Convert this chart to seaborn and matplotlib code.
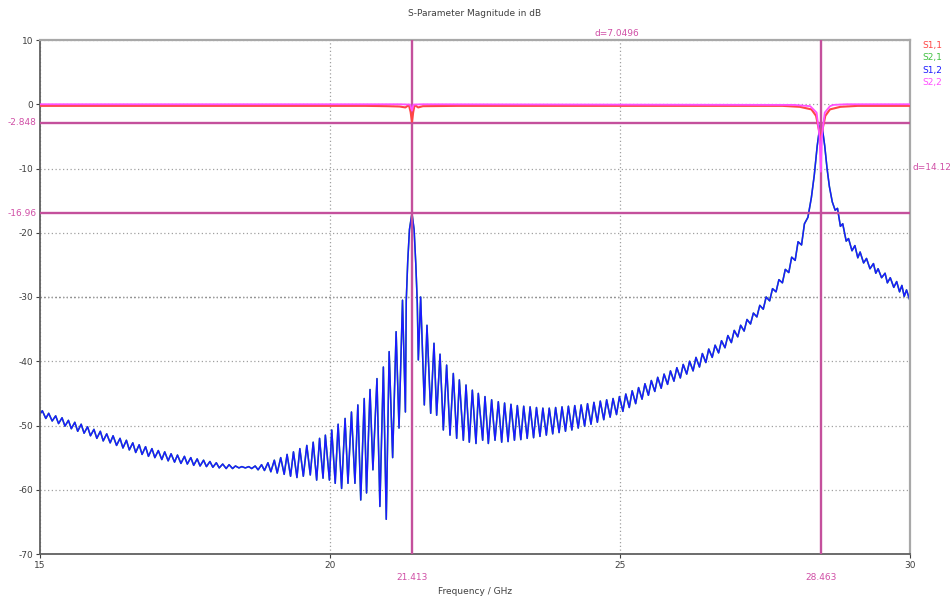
import numpy as np
import pandas as pd
import matplotlib
matplotlib.use("Agg")
import matplotlib.pyplot as plt
import matplotlib.transforms as mtransforms
import seaborn as sns

# ---------------- data ----------------
# S1,2 (and S2,1, identical / hidden underneath): local maxima and minima of the ripple
s12_freq_left = [15.00, 15.04, 15.10, 15.15, 15.21, 15.27, 15.32, 15.38, 15.43, 15.49, 15.54, 15.60,
                 15.65, 15.71, 15.76, 15.82, 15.87, 15.93, 15.98, 16.04, 16.09, 16.15, 16.21, 16.26,
                 16.32, 16.38, 16.43, 16.49, 16.54, 16.60, 16.65, 16.71, 16.76, 16.82, 16.87, 16.93,
                 16.98, 17.04, 17.10, 17.15, 17.21, 17.26, 17.32, 17.37, 17.43, 17.49, 17.54, 17.60,
                 17.65, 17.71, 17.76, 17.82, 17.87, 17.93, 17.98, 18.04, 18.09, 18.15, 18.21, 18.26,
                 18.32, 18.37, 18.43, 18.48, 18.54, 18.60, 18.65, 18.71, 18.76, 18.82, 18.87, 18.93,
                 18.98, 19.04, 19.09, 19.15, 19.21, 19.26, 19.32, 19.37, 19.43, 19.48, 19.54, 19.60,
                 19.66, 19.71, 19.77, 19.82, 19.88, 19.92, 19.99, 20.03, 20.09, 20.14, 20.20, 20.26,
                 20.31, 20.37, 20.43, 20.48, 20.53, 20.59, 20.63, 20.69, 20.74, 20.81, 20.86, 20.92,
                 20.97, 21.02, 21.08, 21.14, 21.19, 21.25, 21.30]
s12_db_left = [-48.2, -47.7, -48.9, -48.1, -49.3, -48.5, -49.7, -48.8, -50.1, -49.2, -50.5, -49.5,
               -50.9, -49.8, -51.2, -50.2, -51.6, -50.6, -52.0, -50.9, -52.4, -51.3, -52.7, -51.6,
               -53.1, -52.0, -53.5, -52.3, -53.8, -52.7, -54.2, -53.0, -54.5, -53.3, -54.8, -53.6,
               -55.0, -53.9, -55.3, -54.1, -55.5, -54.4, -55.7, -54.6, -55.9, -54.8, -56.0, -55.0,
               -56.2, -55.2, -56.3, -55.4, -56.4, -55.6, -56.5, -55.8, -56.6, -56.0, -56.7, -56.1,
               -56.7, -56.3, -56.6, -56.4, -56.6, -56.4, -56.7, -56.3, -56.9, -56.1, -57.0, -55.8,
               -57.2, -55.4, -57.4, -55.0, -57.6, -54.5, -57.9, -54.1, -58.1, -53.6, -57.9, -53.1,
               -57.7, -52.6, -58.5, -52.0, -58.2, -51.5, -58.5, -50.7, -59.0, -49.8, -59.8, -48.9,
               -59.0, -47.9, -59.0, -46.8, -61.6, -45.8, -60.5, -44.4, -56.9, -42.7, -62.6, -40.9,
               -64.6, -38.5, -55.0, -35.4, -50.4, -30.5, -47.9]

s12_freq_mid = [21.315, 21.34, 21.37, 21.413, 21.45, 21.48, 21.505, 21.523, 21.563, 21.626, 21.672,
                21.736, 21.793, 21.839, 21.897, 21.954, 22.011, 22.069, 22.126, 22.184, 22.230,
                22.299, 22.345, 22.402, 22.454, 22.517, 22.557, 22.632, 22.672, 22.730, 22.787,
                22.845, 22.902]
s12_db_mid = [-30.5, -24.5, -19.5, -16.96, -19.5, -25.0, -31.0, -39.8, -30.0, -46.8, -34.4,
              -48.1, -37.2, -48.4, -38.9, -50.7, -40.6, -51.5, -41.9, -52.0, -42.9,
              -52.3, -43.7, -52.6, -44.5, -52.8, -45.0, -52.3, -45.5, -52.8, -46.0,
              -52.3, -46.3]

s12_freq_right = [22.96, 23.01, 23.07, 23.12, 23.18, 23.23, 23.29, 23.34, 23.40, 23.45, 23.51, 23.56,
                  23.62, 23.67, 23.73, 23.78, 23.84, 23.89, 23.95, 24.00, 24.06, 24.11, 24.17, 24.22,
                  24.28, 24.33, 24.39, 24.44, 24.50, 24.55, 24.61, 24.66, 24.72, 24.77, 24.83, 24.88,
                  24.94, 24.99, 25.05, 25.10, 25.16, 25.21, 25.27, 25.32, 25.38, 25.43, 25.49, 25.54,
                  25.60, 25.65, 25.71, 25.76, 25.82, 25.87, 25.93, 25.98, 26.04, 26.09, 26.15, 26.20,
                  26.26, 26.31, 26.37, 26.42, 26.48, 26.53, 26.59, 26.64, 26.70, 26.75, 26.81, 26.86,
                  26.92, 26.97, 27.03, 27.08, 27.14, 27.19, 27.25, 27.30, 27.36, 27.41, 27.47, 27.52,
                  27.58, 27.63, 27.69, 27.74, 27.80, 27.85, 27.91, 27.96, 28.02, 28.07, 28.13, 28.18,
                  28.24, 28.30, 28.35, 28.40, 28.44, 28.463, 28.49, 28.53, 28.57, 28.61, 28.66, 28.71,
                  28.75, 28.80, 28.84, 28.90, 28.94, 29.00, 29.05, 29.10, 29.14, 29.20, 29.25, 29.31,
                  29.37, 29.41, 29.45, 29.51, 29.57, 29.61, 29.66, 29.72, 29.77, 29.82, 29.86, 29.90,
                  29.94, 30.00]
s12_db_right = [-52.6, -46.5, -52.5, -46.7, -52.3, -46.9, -52.2, -47.0, -52.0, -47.1, -51.9, -47.2,
                -51.7, -47.3, -51.5, -47.3, -51.3, -47.2, -51.1, -47.1, -50.9, -47.0, -50.7, -46.9,
                -50.4, -46.8, -50.1, -46.6, -49.8, -46.4, -49.5, -46.2, -49.1, -46.0, -48.7, -45.8,
                -48.3, -45.5, -47.8, -45.1, -47.2, -44.6, -46.6, -44.1, -45.9, -43.5, -45.3, -43.0,
                -44.7, -42.5, -44.2, -42.0, -43.6, -41.5, -43.1, -41.0, -42.6, -40.5, -42.0, -40.0,
                -41.5, -39.4, -40.9, -38.8, -40.2, -38.1, -39.4, -37.5, -38.7, -36.8, -37.9, -36.0,
                -37.1, -35.2, -36.2, -34.4, -35.3, -33.5, -34.2, -32.5, -33.1, -31.3, -31.9, -30.0,
                -30.6, -28.7, -29.2, -27.3, -27.8, -25.7, -26.2, -23.8, -24.3, -21.4, -21.9, -18.6,
                -17.6, -14.5, -11.0, -6.5, -3.8, -2.85, -3.8, -6.5, -10.0, -12.8, -15.2, -16.5,
                -16.2, -19.0, -18.6, -21.3, -20.9, -22.8, -22.0, -23.9, -23.0, -24.7, -24.0, -25.6,
                -24.8, -26.3, -25.6, -27.0, -26.3, -27.8, -27.0, -28.5, -27.6, -29.2, -28.2, -29.9,
                -28.9, -30.6]

# S1,1 (red) and S2,2 (magenta): near 0 dB with dips at the two resonances
s11_freq = [15.0, 20.6, 21.0, 21.2, 21.3, 21.36, 21.39, 21.413, 21.435, 21.46, 21.52, 21.6, 22.2,
            27.8, 28.1, 28.3, 28.38, 28.43, 28.463, 28.49, 28.54, 28.62, 28.8, 29.1, 30.0]
s11_db = [-0.25, -0.25, -0.3, -0.35, -0.5, -0.1, -1.2, -2.7, -1.2, -0.1, -0.5, -0.3, -0.25,
          -0.25, -0.4, -0.8, -1.8, -4.0, -5.5, -4.0, -1.8, -0.8, -0.4, -0.25, -0.25]
s22_freq = [15.0, 21.2, 21.38, 21.413, 21.44, 21.6, 28.0, 28.28, 28.39, 28.44, 28.463, 28.48,
            28.53, 28.62, 28.68, 28.9, 30.0]
s22_db = [0.0, 0.0, -0.05, -1.0, -0.05, 0.0, -0.1, -0.3, -1.3, -5.0, -10.5, -5.0,
          -1.3, -0.3, -0.1, 0.0, 0.0]

series_labels = ["S1,1", "S2,1", "S1,2", "S2,2"]
series_colors = ["#ff4545", "#40c040", "#1a1aff", "#ff50ff"]

marker_freqs = [21.413, 28.463]
marker_freq_labels = ["21.413", "28.463"]
marker_levels = [-2.848, -16.96]
marker_level_labels = ["-2.848", "-16.96"]
delta_freq_label = "d=7.0496"
delta_level_label = "d=14.12"

x_ticks = [15, 20, 25, 30]
y_ticks = [10, 0, -10, -20, -30, -40, -50, -60, -70]
dark_grid_db = -30

title = "S-Parameter Magnitude in dB"
x_label = "Frequency / GHz"

# ---------------- plotting ----------------
sns.set_theme(style="white")
plt.rcParams["font.family"] = ["DejaVu Sans"]
plt.rcParams["axes.unicode_minus"] = False

fig = plt.figure(figsize=(9.52, 5.99), dpi=100)
ax = fig.add_axes([40 / 952, 45 / 599, 870 / 952, 514 / 599])

s12 = pd.DataFrame({"freq": s12_freq_left + s12_freq_mid + s12_freq_right,
                    "db": s12_db_left + s12_db_mid + s12_db_right})
s11 = pd.DataFrame({"freq": s11_freq, "db": s11_db})
s22 = pd.DataFrame({"freq": s22_freq, "db": s22_db})

ax.set_xlim(15, 30)
ax.set_ylim(-70, 10)
ax.set_xticks(x_ticks)
ax.set_yticks(y_ticks)
ax.grid(True, linestyle=(0, (1, 2)), color="#a0a0a0", linewidth=0.9, zorder=0)
ax.axhline(dark_grid_db, linestyle=(0, (1, 2)), color="#303030", linewidth=0.9, zorder=0.5)

sns.lineplot(data=s12, x="freq", y="db", color=series_colors[1], linewidth=1.1,
             estimator=None, sort=False, ax=ax, zorder=2)
sns.lineplot(data=s12, x="freq", y="db", color=series_colors[2], linewidth=1.1,
             estimator=None, sort=False, ax=ax, zorder=2.1)

mcol = "#c4509c"
for f in marker_freqs:
    ax.axvline(f, color=mcol, linewidth=1.7, zorder=3)
for lv in marker_levels:
    ax.axhline(lv, color=mcol, linewidth=1.7, zorder=3)

sns.lineplot(data=s11, x="freq", y="db", color=series_colors[0], linewidth=1.5,
             estimator=None, sort=False, ax=ax, zorder=3.5)
sns.lineplot(data=s22, x="freq", y="db", color=series_colors[3], linewidth=1.3,
             estimator=None, sort=False, ax=ax, zorder=3.6)

ax.set_xlabel("")
ax.set_ylabel("")
ax.tick_params(axis="both", labelsize=6.5, colors="#404040", length=3, width=0.8,
               direction="out", pad=2, bottom=True, left=True)
for s in ["left", "bottom"]:
    ax.spines[s].set_color("#606060")
    ax.spines[s].set_linewidth(1.3)
for s in ["top", "right"]:
    ax.spines[s].set_color("#a8a8a8")
    ax.spines[s].set_linewidth(1.6)

lab_col = "#d04fa6"
tr_y = mtransforms.blended_transform_factory(ax.transAxes, ax.transData)
for lv, txt in zip(marker_levels, marker_level_labels):
    ax.text(-0.004, lv, txt, transform=tr_y, ha="right", va="center", fontsize=6.5, color=lab_col)
tr_x = mtransforms.blended_transform_factory(ax.transData, ax.transAxes)
for f, txt in zip(marker_freqs, marker_freq_labels):
    ax.text(f, -0.045, txt, transform=tr_x, ha="center", va="center", fontsize=6.5, color=lab_col)

ax.text(np.mean(marker_freqs), 1.012, delta_freq_label, transform=tr_x, ha="center", va="center",
        fontsize=6.5, color=lab_col)
ax.text(1.003, np.mean(marker_levels), delta_level_label, transform=tr_y, ha="left", va="center",
        fontsize=6.5, color=lab_col)

for i, (lab, col) in enumerate(zip(series_labels, series_colors)):
    ax.text(1.014, 0.990 - i * 0.0245, lab, transform=ax.transAxes, ha="left", va="center",
            fontsize=6.5, color=col)

fig.text(475 / 952, 1 - 14 / 599, title, ha="center", va="center", fontsize=6.5, color="#404040")
fig.text(475 / 952, 1 - 592 / 599, x_label, ha="center", va="center", fontsize=6.5, color="#404040")

fig.savefig("out.png", dpi=100, facecolor="white")
